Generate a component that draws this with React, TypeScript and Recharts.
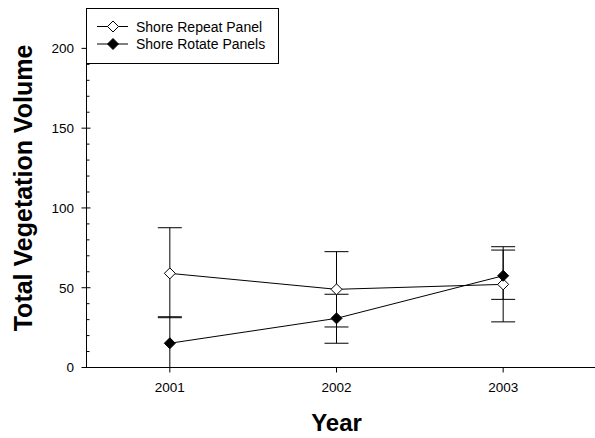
import React from 'react';
import { LineChart, Line, XAxis, YAxis, ErrorBar } from 'recharts';

const FONT = '"Liberation Sans", Arial, Helvetica, sans-serif';

const years = [2001, 2002, 2003];
const seriesNames = ['Shore Repeat Panel', 'Shore Rotate Panels'];

const repeatValues = [59.0, 49.0, 52.1];
const repeatErrLow = [27.8, 23.6, 23.5];
const repeatErrHigh = [28.6, 23.6, 23.6];

const rotateValues = [15.2, 30.8, 57.5];
const rotateErrLow = [15.2, 15.6, 14.8];
const rotateErrHigh = [16.6, 15.1, 16.1];

const yTicks = [0, 10, 20, 30, 40, 50, 60, 70, 80, 90, 100, 110, 120, 130, 140, 150, 160, 170, 180, 190, 200, 210, 220];
const xTicks = [2001, 2002, 2003];

const data = years.map((year, i) => ({
  year,
  repeat: repeatValues[i],
  repeatErr: [repeatErrLow[i], repeatErrHigh[i]],
  rotate: rotateValues[i],
  rotateErr: [rotateErrLow[i], rotateErrHigh[i]],
}));

const X_DOMAIN = [2000.5, 2003.56];

const Diamond = ({ cx, cy, filled }: any) => {
  if (cx == null || cy == null) return null;
  const r = 5.5;
  return (
    <polygon
      points={`${cx},${cy - r} ${cx + r},${cy} ${cx},${cy + r} ${cx - r},${cy}`}
      fill={filled ? '#000' : '#fff'}
      stroke="#000"
      strokeWidth={1}
    />
  );
};

const LeftTick = ({ x, y, payload }: any) => {
  const major = payload.value % 50 === 0;
  return (
    <g>
      <line x1={major ? x - 5 : x} x2={major ? x + 4 : x + 3} y1={y} y2={y} stroke="#000" strokeWidth={1} />
      {major && (
        <text x={x - 12.5} y={y} dy="0.355em" textAnchor="end" fontSize={13.5} fontFamily={FONT} fill="#000">
          {payload.value}
        </text>
      )}
    </g>
  );
};

const RightTick = ({ x, y, payload }: any) => {
  const major = payload.value % 50 === 0;
  return <line x1={x} x2={major ? x - 5 : x - 3} y1={y} y2={y} stroke="#000" strokeWidth={1} />;
};

const YTitle = ({ viewBox }: any) => {
  const cx = viewBox.x + 22.5;
  const cy = viewBox.y + viewBox.height / 2;
  return (
    <text
      x={cx}
      y={cy}
      transform={`rotate(-90, ${cx}, ${cy})`}
      textAnchor="middle"
      dominantBaseline="central"
      fontSize={25}
      fontWeight="bold"
      fontFamily={FONT}
      fill="#000"
    >
      Total Vegetation Volume
    </text>
  );
};

const XTitle = ({ viewBox }: any) => {
  const span = X_DOMAIN[1] - X_DOMAIN[0];
  const cx = viewBox.x + (viewBox.width * (2002 - X_DOMAIN[0])) / span;
  return (
    <text x={cx} y={viewBox.y + 63.5} textAnchor="middle" fontSize={24} fontWeight="bold" fontFamily={FONT} fill="#000">
      Year
    </text>
  );
};

const LegendBox = () => (
  <svg width={595} height={438} style={{ position: 'absolute', left: 0, top: 0, pointerEvents: 'none' }}>
    <rect x={86.5} y={8.5} width={192} height={55} fill="#fff" stroke="#000" strokeWidth={1} />
    {seriesNames.map((name, i) => {
      const cy = 26.5 + i * 17.5;
      return (
        <g key={name}>
          <line x1={97} x2={128} y1={cy} y2={cy} stroke="#000" strokeWidth={1} />
          <Diamond cx={113} cy={cy} filled={i === 1} />
          <text x={136} y={cy} dy="0.36em" fontSize={14} fontFamily={FONT} fill="#000">
            {name}
          </text>
        </g>
      );
    })}
  </svg>
);

export default function App() {
  return (
    <div style={{ position: 'absolute', left: 0, top: 0, width: 595, height: 438, overflow: 'hidden', background: '#fff' }}>
      <LineChart width={600} height={438} data={data} margin={{ top: 8.5, right: 3.5, bottom: 0, left: 0.5 }}>
        <XAxis
          dataKey="year"
          type="number"
          domain={X_DOMAIN}
          ticks={xTicks}
          interval={0}
          height={70.5}
          tickSize={5}
          tickMargin={10}
          axisLine={{ stroke: '#000' }}
          tickLine={{ stroke: '#000' }}
          tick={{ fill: '#000', fontSize: 13.5, fontFamily: FONT }}
          label={(props: any) => <XTitle {...props} />}
        />
        <XAxis
          xAxisId="top"
          orientation="top"
          dataKey="year"
          type="number"
          domain={X_DOMAIN}
          height={0}
          tick={false}
          tickLine={false}
          axisLine={{ stroke: '#000' }}
        />
        <YAxis
          type="number"
          domain={[0, 225]}
          ticks={yTicks}
          interval={0}
          width={86}
          tickSize={0}
          tickMargin={0}
          tickLine={false}
          axisLine={{ stroke: '#000' }}
          tick={(props: any) => <LeftTick {...props} />}
          label={(props: any) => <YTitle {...props} />}
        />
        <YAxis
          yAxisId="right"
          orientation="right"
          type="number"
          domain={[0, 225]}
          ticks={yTicks}
          interval={0}
          width={0}
          tickSize={0}
          tickMargin={0}
          tickLine={false}
          axisLine={{ stroke: '#000' }}
          tick={(props: any) => <RightTick {...props} />}
        />
        <Line
          dataKey="repeat"
          type="linear"
          stroke="#000"
          strokeWidth={1}
          isAnimationActive={false}
          activeDot={false}
          dot={(p: any) => <Diamond key={`r-${p.index}`} cx={p.cx} cy={p.cy} filled={false} />}
        >
          <ErrorBar dataKey="repeatErr" direction="y" width={12} stroke="#000" strokeWidth={1} isAnimationActive={false} />
        </Line>
        <Line
          dataKey="rotate"
          type="linear"
          stroke="#000"
          strokeWidth={1}
          isAnimationActive={false}
          activeDot={false}
          dot={(p: any) => <Diamond key={`o-${p.index}`} cx={p.cx} cy={p.cy} filled />}
        >
          <ErrorBar dataKey="rotateErr" direction="y" width={12} stroke="#000" strokeWidth={1} isAnimationActive={false} />
        </Line>
      </LineChart>
      <LegendBox />
    </div>
  );
}
